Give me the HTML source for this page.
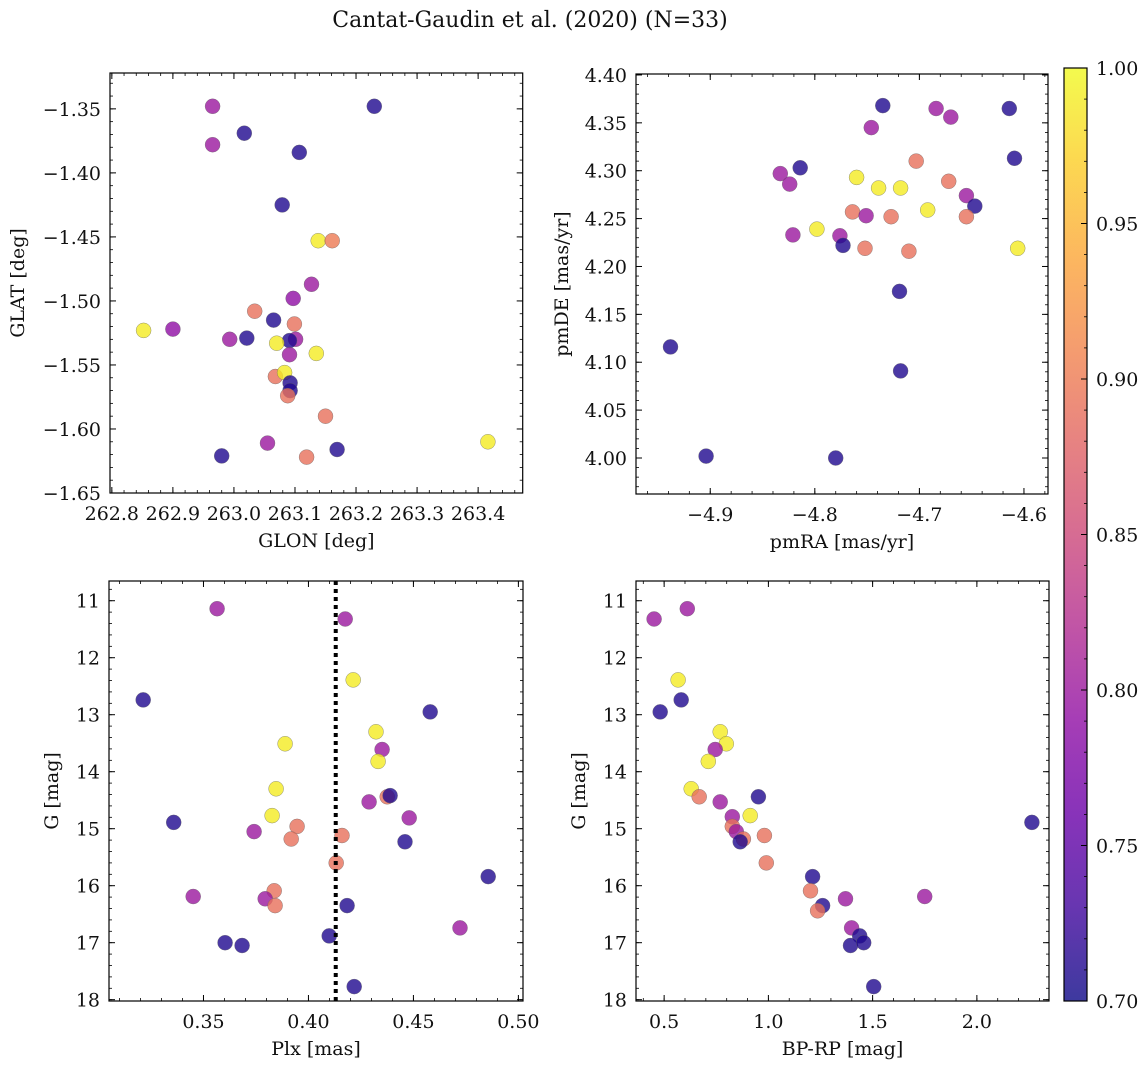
<!DOCTYPE html>
<html><head><meta charset="utf-8"><style>
html,body{margin:0;padding:0;background:#fff;}
svg text{font-family:"DejaVu Serif","Liberation Serif",serif;fill:#111;}
</style></head>
<body>
<svg id="fig" width="1148" height="1068" xmlns="http://www.w3.org/2000/svg">
<text x="530" y="27" text-anchor="middle" font-size="22">Cantat-Gaudin et al. (2020) (N=33)</text>
</svg>
<script>
// ---- data ----
const tlGlon=[262.965,262.965,263.017,263.230,263.107,263.079,263.138,263.161,263.127,263.097,263.034,262.852,262.900,262.993,263.021,263.065,263.099,263.101,263.091,263.070,263.091,263.135,263.068,263.083,263.092,263.092,263.088,263.150,263.055,263.119,262.980,263.169,263.416];
const tlGlat=[-1.348,-1.378,-1.369,-1.348,-1.384,-1.425,-1.453,-1.453,-1.487,-1.498,-1.508,-1.523,-1.522,-1.530,-1.529,-1.515,-1.518,-1.530,-1.531,-1.533,-1.542,-1.541,-1.559,-1.556,-1.564,-1.570,-1.574,-1.590,-1.611,-1.622,-1.621,-1.616,-1.610];
const tlProb=[0.80,0.80,0.71,0.71,0.71,0.71,0.99,0.90,0.80,0.79,0.89,0.99,0.79,0.80,0.71,0.71,0.89,0.80,0.71,0.99,0.80,0.99,0.89,0.99,0.71,0.71,0.89,0.89,0.80,0.89,0.71,0.71,0.99];

const trPmra=[-4.735,-4.684,-4.614,-4.670,-4.746,-4.609,-4.703,-4.814,-4.833,-4.760,-4.824,-4.672,-4.739,-4.718,-4.655,-4.647,-4.692,-4.764,-4.751,-4.727,-4.655,-4.798,-4.821,-4.776,-4.773,-4.752,-4.710,-4.606,-4.719,-4.938,-4.718,-4.904,-4.780];
const trPmde=[4.368,4.365,4.365,4.356,4.345,4.313,4.310,4.303,4.297,4.293,4.286,4.289,4.282,4.282,4.274,4.263,4.259,4.257,4.253,4.252,4.252,4.239,4.233,4.232,4.222,4.219,4.216,4.219,4.174,4.116,4.091,4.002,4.000];
const trProb=[0.71,0.80,0.71,0.80,0.80,0.71,0.89,0.71,0.80,0.99,0.80,0.89,0.99,0.99,0.80,0.71,0.99,0.89,0.80,0.89,0.89,0.99,0.80,0.80,0.71,0.89,0.89,0.99,0.71,0.71,0.71,0.71,0.71];

const blPlx=[0.3565,0.4175,0.4213,0.3213,0.4580,0.4322,0.3889,0.4351,0.4332,0.3846,0.4375,0.4389,0.4289,0.4480,0.3827,0.3358,0.3946,0.3741,0.3918,0.4160,0.4460,0.4132,0.4856,0.3837,0.3451,0.3794,0.3841,0.4184,0.4722,0.4099,0.3603,0.3684,0.4218];
const blG=[11.14,11.32,12.39,12.74,12.95,13.30,13.51,13.61,13.82,14.30,14.44,14.42,14.53,14.81,14.77,14.89,14.96,15.05,15.18,15.12,15.23,15.60,15.84,16.09,16.19,16.23,16.35,16.35,16.74,16.88,17.00,17.05,17.77];
const blProb=[0.80,0.80,0.99,0.71,0.71,0.99,0.99,0.80,0.99,0.99,0.89,0.71,0.80,0.80,0.99,0.71,0.89,0.80,0.89,0.89,0.71,0.89,0.71,0.89,0.80,0.80,0.89,0.71,0.80,0.71,0.71,0.71,0.71];
const plxLine=[0.413];

const brColor=[0.452,0.611,0.567,0.481,0.582,0.769,0.798,0.745,0.712,0.630,0.668,0.952,0.769,0.827,0.913,2.264,0.827,0.846,0.981,0.880,0.865,0.990,1.212,1.202,1.370,1.750,1.260,1.236,1.399,1.438,1.394,1.457,1.505];
const brG=[11.32,11.14,12.39,12.95,12.74,13.30,13.51,13.61,13.82,14.30,14.44,14.44,14.53,14.79,14.77,14.89,14.96,15.05,15.12,15.18,15.23,15.60,15.84,16.09,16.23,16.19,16.35,16.44,16.74,16.88,17.05,17.00,17.77];
const brProb=[0.80,0.80,0.99,0.71,0.71,0.99,0.99,0.80,0.99,0.99,0.89,0.71,0.80,0.80,0.99,0.71,0.89,0.80,0.89,0.89,0.71,0.89,0.71,0.89,0.80,0.80,0.71,0.89,0.80,0.71,0.71,0.71,0.71];

const tlXTicks=[262.8,262.9,263.0,263.1,263.2,263.3,263.4];
const tlYTicks=[-1.35,-1.40,-1.45,-1.50,-1.55,-1.60,-1.65];
const trXTicks=[-4.9,-4.8,-4.7,-4.6];
const trYTicks=[4.00,4.05,4.10,4.15,4.20,4.25,4.30,4.35,4.40];
const blXTicks=[0.35,0.40,0.45,0.50];
const gTicks=[11,12,13,14,15,16,17,18];
const brXTicks=[0.5,1.0,1.5,2.0];
const cbTicks=[0.70,0.75,0.80,0.85,0.90,0.95,1.00];

// ---- drawing ----
const NS='http://www.w3.org/2000/svg';
const svg=document.getElementById('fig');
const FS=19;
function el(tag,attrs,parent){const e=document.createElementNS(NS,tag);for(const k in attrs)e.setAttribute(k,attrs[k]);(parent||svg).appendChild(e);return e;}
const plasma=['#0d0887','#41049d','#6a00a8','#8f0da4','#b12a90','#cc4778','#e16462','#f2844b','#fca636','#fcce25','#f0f921'];
function hex(c){return [1,3,5].map(i=>parseInt(c.substr(i,2),16));}
function cmap(p){let t=(p-0.7)/0.3;t=Math.max(0,Math.min(1,t));const f=t*10,i=Math.min(9,Math.floor(f)),u=f-i;const a=hex(plasma[i]),b=hex(plasma[i+1]);return 'rgb('+a.map((v,k)=>Math.round(v+(b[k]-v)*u)).join(',')+')';}
function fmt(v,d){const s=Math.abs(v).toFixed(d);return (v<-1e-9?'\u2212':'')+s;}

function panel(name,P,xs,ys,ps,xt,yt,xd,yd,xminor,yminor,xlabel,ylabel,ylabX){
  const g=el('g',{});
  
  
  const sx=v=>P.l+(v-P.x0)/(P.x1-P.x0)*(P.r-P.l);
  const sy=v=>P.b-(v-P.y0)/(P.y1-P.y0)*(P.b-P.t);
  P.sx=sx;P.sy=sy;
  const pg=el('g',{},g);
  
  
  for(let i=0;i<xs.length;i++){
    const c=el('circle',{cx:sx(xs[i]).toFixed(1),cy:sy(ys[i]).toFixed(1),r:7.5,fill:cmap(ps[i]),'fill-opacity':0.8,stroke:'#666','stroke-width':0.5,'stroke-opacity':0.7},pg);
    
    
  }
  const fr=el('rect',{x:P.l,y:P.t,width:P.r-P.l,height:P.b-P.t,fill:'none',stroke:'#000','stroke-width':1.2},g);
  
  
  const lo=Math.min(P.x0,P.x1),hi=Math.max(P.x0,P.x1);
  for(let k=Math.ceil(lo/xminor-1e-6);k*xminor<=hi+1e-9;k++){const x=sx(k*xminor);
    el('line',{x1:x,x2:x,y1:P.b,y2:P.b-3,stroke:'#000','stroke-width':0.8},g);
    el('line',{x1:x,x2:x,y1:P.t,y2:P.t+3,stroke:'#000','stroke-width':0.8},g);}
  const ylo=Math.min(P.y0,P.y1),yhi=Math.max(P.y0,P.y1);
  for(let k=Math.ceil(ylo/yminor-1e-6);k*yminor<=yhi+1e-9;k++){const y=sy(k*yminor);
    el('line',{x1:P.l,x2:P.l+3,y1:y,y2:y,stroke:'#000','stroke-width':0.8},g);
    el('line',{x1:P.r,x2:P.r-3,y1:y,y2:y,stroke:'#000','stroke-width':0.8},g);}
  xt.forEach(v=>{const x=sx(v);
    el('line',{x1:x,x2:x,y1:P.b,y2:P.b-6,stroke:'#000','stroke-width':1},g);
    el('line',{x1:x,x2:x,y1:P.t,y2:P.t+6,stroke:'#000','stroke-width':1},g);
    const t=el('text',{x:x,y:P.b+27,'text-anchor':'middle','font-size':FS},g);t.textContent=fmt(v,xd);
    
    });
  yt.forEach(v=>{const y=sy(v);
    el('line',{x1:P.l,x2:P.l+6,y1:y,y2:y,stroke:'#000','stroke-width':1},g);
    el('line',{x1:P.r,x2:P.r-6,y1:y,y2:y,stroke:'#000','stroke-width':1},g);
    const t=el('text',{x:P.l-9,y:y+7,'text-anchor':'end','font-size':FS},g);t.textContent=fmt(v,yd);
    
    });
  const xl=el('text',{x:(P.l+P.r)/2,y:P.b+54,'text-anchor':'middle','font-size':FS},g);xl.textContent=xlabel;
  
  
  const cy=(P.t+P.b)/2;
  const yl=el('text',{x:ylabX,y:cy,'text-anchor':'middle','font-size':FS,transform:'rotate(-90 '+ylabX+' '+cy+')'},g);yl.textContent=ylabel;
  
  
  return P;
}

panel('panel-glon-glat',{l:110,r:522.7,t:73,b:493,x0:262.797,x1:263.473,y0:-1.65,y1:-1.322},tlGlon,tlGlat,tlProb,tlXTicks,tlYTicks,1,2,0.02,0.01,'GLON [deg]','GLAT [deg]',24);
panel('panel-pm',{l:636,r:1048,t:74,b:494,x0:-4.971,x1:-4.577,y0:3.9624,y1:4.401},trPmra,trPmde,trProb,trXTicks,trYTicks,1,2,0.02,0.01,'pmRA [mas/yr]','pmDE [mas/yr]',568);
const BL=panel('panel-plx-g',{l:109,r:523,t:581,b:1001,x0:0.305,x1:0.5022,y0:18.023,y1:10.654},blPlx,blG,blProb,blXTicks,gTicks,2,0,0.01,0.2,'Plx [mas]','G [mag]',58);
panel('panel-cmd',{l:636,r:1049,t:581,b:1001,x0:0.365,x1:2.346,y0:18.023,y1:10.654},brColor,brG,brProb,brXTicks,gTicks,1,0,0.1,0.2,'BP-RP [mag]','G [mag]',585);

plxLine.forEach(v=>{const x=BL.sx(v);
  const ln=el('line',{x1:x,x2:x,y1:BL.t,y2:BL.b,stroke:'#000','stroke-width':4,'stroke-dasharray':'4 4'});
  
  });

const defs=el('defs',{});
const lg=el('linearGradient',{id:'cbg',x1:0,y1:1,x2:0,y2:0},defs);
for(let i=0;i<=20;i++){el('stop',{offset:(i/20),'stop-color':cmap(0.7+0.3*i/20),'stop-opacity':0.8},lg);}
const CB={l:1064,r:1087,t:68,b:1001,v0:0.7,v1:1.0};
const cbg=el('g',{});


el('rect',{x:CB.l,y:CB.t,width:CB.r-CB.l,height:CB.b-CB.t,fill:'url(#cbg)',stroke:'#000','stroke-width':1.2},cbg);
const cy=v=>CB.b-(v-CB.v0)/(CB.v1-CB.v0)*(CB.b-CB.t);
for(let k=70;k<=100;k++){const y=cy(k/100);el('line',{x1:CB.r,x2:CB.r-3,y1:y,y2:y,stroke:'#000','stroke-width':0.8},cbg);}
cbTicks.forEach(v=>{const y=cy(v);
  el('line',{x1:CB.r,x2:CB.r-6,y1:y,y2:y,stroke:'#000','stroke-width':1},cbg);
  const t=el('text',{x:CB.r+9,y:y+7,'font-size':FS},cbg);t.textContent=v.toFixed(2);
  
  });
</script>
</body></html>
